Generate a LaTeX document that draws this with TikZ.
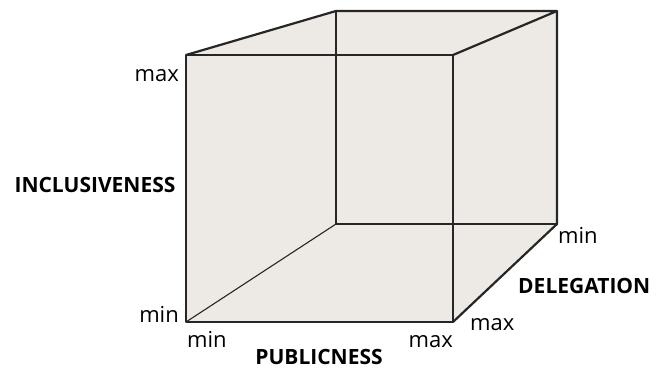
\documentclass[tikz,border=0pt]{standalone}
\usepackage{fontspec}
\setmainfont{Open Sans}
\usepackage{xcolor}
\usepackage{tikz}
\definecolor{cubefill}{RGB}{237,234,229}

\begin{document}
\begin{tikzpicture}[x=1pt,y=1pt,
    outerline/.style={line width=2.2pt,black!85},
    innerline/.style={line width=1.1pt,black!85},
    lab/.style={inner sep=0pt,font=\fontsize{22}{24}\selectfont},
    axislab/.style={inner sep=0pt,font=\fontsize{21}{23}\selectfont\bfseries}]
    \useasboundingbox (0,0) rectangle (659,370);
    % Corners of the cube
    \coordinate (ftl) at (186,315);
    \coordinate (ftr) at (453,315);
    \coordinate (fbl) at (186,48);
    \coordinate (fbr) at (453,48);
    \coordinate (btl) at (336,359);
    \coordinate (btr) at (557,359);
    \coordinate (bbl) at (336,146);
    \coordinate (bbr) at (557,146);
    % Shaded body
    \fill[cubefill] (fbl) -- (ftl) -- (btl) -- (btr) -- (bbr) -- (fbr) -- cycle;
    % Back edges
    \draw[innerline] (btl) -- (bbl) -- (bbr);
    \draw[innerline] (bbl) -- (fbl);
    % Outer edges
    \draw[outerline,line join=round] (fbl) rectangle (ftr);
    \draw[outerline,line join=round] (ftl) -- (btl) -- (btr) -- (ftr);
    \draw[outerline,line join=round] (btr) -- (bbr) -- (fbr);
    % Vertical axis
    \node[lab,anchor=base east] (inmax) at (179,288) {max};
    \node[lab,anchor=base east] (inmin) at (179,48) {min};
    \node[axislab,anchor=base] (incl) at (95,177) {INCLUSIVENESS};
    % Horizontal axis
    \node[lab,anchor=base west] (pubmin) at (187,23) {min};
    \node[lab,anchor=base east] (pubmax) at (453,23) {max};
    \node[axislab,anchor=base] (pub) at (319,6) {PUBLICNESS};
    % Depth axis
    \node[lab,anchor=base west] (delmax) at (470,40) {max};
    \node[lab,anchor=base west] (delmin) at (558,127) {min};
    \node[axislab,anchor=base west] (deleg) at (518,77) {DELEGATION};
\end{tikzpicture}
\end{document}
